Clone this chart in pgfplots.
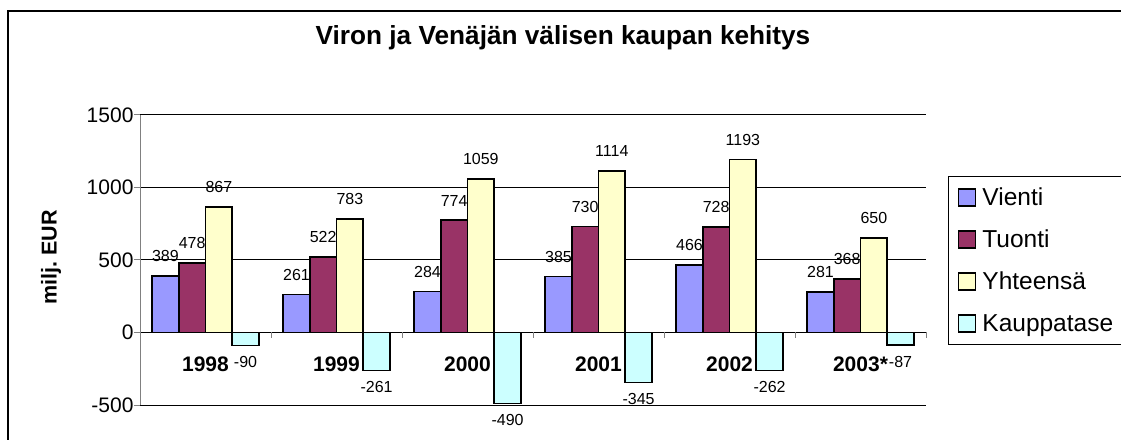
\documentclass[border=0pt]{standalone}
\usepackage{pgfplots}
\pgfplotsset{compat=1.18}
\usepackage{fontspec}
\setmainfont{Liberation Sans}
\definecolor{vienti}{HTML}{9999FF}
\definecolor{tuonti}{HTML}{993366}
\definecolor{yht}{HTML}{FFFFCC}
\definecolor{kaup}{HTML}{CCFFFF}
\pgfplotsset{sqleg/.style={legend image code/.code={\draw[##1, draw=black, line width=1.2pt] (0pt,-8.5pt) rectangle (17pt,8.5pt);}}}
\begin{document}
\begin{tikzpicture}[x=1pt,y=1pt]
\useasboundingbox (0,0) rectangle (1121,439);
\fill[white] (0,0) rectangle (1121,439);
\draw[line width=2pt] (8.3,-20) rectangle (1200,427.7);
\begin{axis}[
 at={(140pt,34pt)}, anchor=south west,
 width=786pt, height=290pt, scale only axis,
 clip=false,
 xmin=-0.5, xmax=5.5, ymin=-500, ymax=1500,
 axis y line*=left, axis x line=none,
 ytick={-500,0,500,1000,1500},
 xtick=\empty,
 ymajorgrids, grid style={black, line width=1pt},
 y axis line style={gray, line width=1pt},
 ytick style={gray, line width=1pt},
 tick align=outside, major tick length=6pt,
 /pgf/number format/assume math mode=true,
 /pgf/number format/1000 sep={},
 yticklabel style={font=\fontsize{21}{25}\selectfont, xshift=3pt},
 ybar=0pt, bar width=26.7pt,
 every node near coord/.append style={font=\fontsize{16}{19}\selectfont, black},
 title={Viron ja Venäjän välisen kaupan kehitys},
 title style={font=\bfseries\fontsize{26.2}{30}\selectfont, at={(axis description cs:0.5382,1.2217)}, anchor=base},
 ylabel={milj.\ EUR},
 ylabel style={font=\bfseries\fontsize{21.5}{25}\selectfont, at={(axis description cs:-0.106,0.5086)}, anchor=base},
 legend style={at={(axis description cs:1.028,0.7897)}, anchor=north west, draw=black, line width=1pt,
   inner xsep=9pt, inner ysep=0pt, font=\fontsize{24.5}{28}\selectfont, row sep=0pt,
   nodes={inner sep=0pt, minimum height=42pt, text height=17pt, text depth=0pt},
   /tikz/every odd column/.append style={column sep=6.7pt}},
 legend cell align=left,
]
\addplot[fill=vienti, draw=black, line width=1.6pt, sqleg, nodes near coords, every node near coord/.append style={yshift=10pt}]
 coordinates {(0,389) (1,261) (2,284) (3,385) (4,466) (5,281)};
\addplot[fill=tuonti, draw=black, line width=1.6pt, sqleg, nodes near coords, every node near coord/.append style={yshift=10pt}]
 coordinates {(0,478) (1,522) (2,774) (3,730) (4,728) (5,368)};
\addplot[fill=yht, draw=black, line width=1.6pt, sqleg, nodes near coords, every node near coord/.append style={yshift=10pt}]
 coordinates {(0,867) (1,783) (2,1059) (3,1114) (4,1193) (5,650)};
\addplot[fill=kaup, draw=black, line width=1.6pt, sqleg, nodes near coords, every node near coord/.append style={yshift=-7pt}]
 coordinates {(0,-90) (1,-261) (2,-490) (3,-345) (4,-262) (5,-87)};
\legend{Vienti, Tuonti, Yhteensä, Kauppatase}
\draw[black, line width=1pt] (axis cs:-0.5,0) -- (axis cs:5.5,0);
\pgfplotsinvokeforeach{-0.5,0.5,1.5,2.5,3.5,4.5,5.5}{\draw[gray, line width=1pt] (axis cs:#1,0) -- ([yshift=-6pt]axis cs:#1,0);}
\node[font=\bfseries\fontsize{21}{25}\selectfont, anchor=base, yshift=-39.4pt] at (axis cs:0,0) {1998};
\node[font=\bfseries\fontsize{21}{25}\selectfont, anchor=base, yshift=-39.4pt] at (axis cs:1,0) {1999};
\node[font=\bfseries\fontsize{21}{25}\selectfont, anchor=base, yshift=-39.4pt] at (axis cs:2,0) {2000};
\node[font=\bfseries\fontsize{21}{25}\selectfont, anchor=base, yshift=-39.4pt] at (axis cs:3,0) {2001};
\node[font=\bfseries\fontsize{21}{25}\selectfont, anchor=base, yshift=-39.4pt] at (axis cs:4,0) {2002};
\node[font=\bfseries\fontsize{21}{25}\selectfont, anchor=base, yshift=-39.4pt] at (axis cs:5,0) {2003*};
\end{axis}
\end{tikzpicture}
\end{document}
